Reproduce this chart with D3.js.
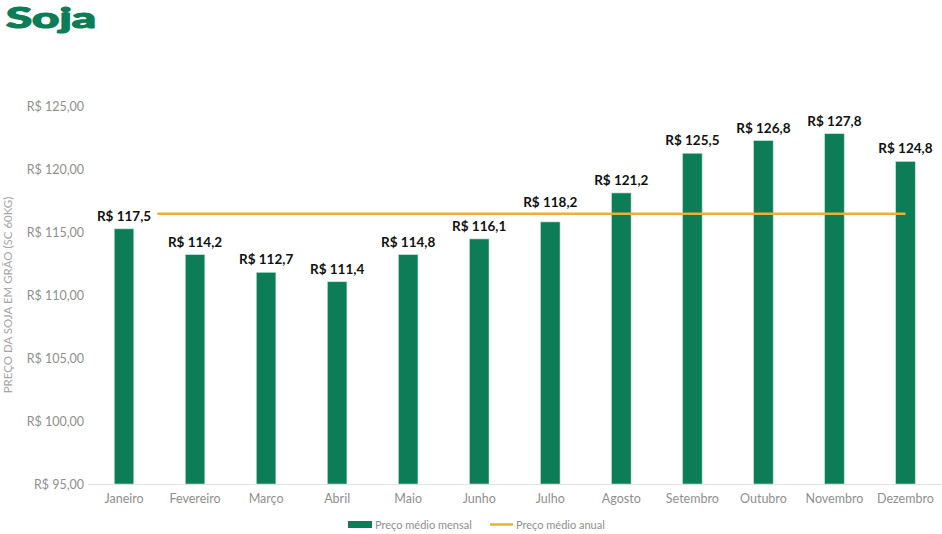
<!DOCTYPE html>
<html><head><meta charset="utf-8">
<script src="https://cdn.jsdelivr.net/npm/d3@7"></script>
<style>body{margin:0;background:#fff;}svg{display:block;font-family:Lato,"Open Sans",sans-serif;}</style>
</head><body>
<svg id="c" width="942" height="534"></svg>
<script>
const months = ["Janeiro","Fevereiro","Março","Abril","Maio","Junho","Julho","Agosto","Setembro","Outubro","Novembro","Dezembro"];
const monthlyPrice = [115.25, 113.2, 111.8, 111.05, 113.2, 114.45, 115.8, 118.1, 121.25, 122.25, 122.8, 120.6];
const dataLabels = ["R$ 117,5","R$ 114,2","R$ 112,7","R$ 111,4","R$ 114,8","R$ 116,1","R$ 118,2","R$ 121,2","R$ 125,5","R$ 126,8","R$ 127,8","R$ 124,8"];
const annualPrice = 116.45;
const yTicks = [95,100,105,110,115,120,125];
const title = "Soja";
const yAxisTitle = "PREÇO DA SOJA EM GRÃO (SC 60KG)";
const legendLabels = ["Preço médio mensal","Preço médio anual"];

const green = "#0c7d57", orange = "#f2ae2f", grey = "#8f8f8f";
const svg = d3.select("#c");
const x = d3.scaleBand().domain(months).range([88.5, 941]).paddingInner(0.725).paddingOuter(0.3625);
const y = d3.scaleLinear().domain([95,125]).range([484,106]);

svg.append("text").attr("x",6).attr("y",28).text(title)
  .attr("fill",green).attr("stroke",green).attr("stroke-width",1.2).attr("stroke-linejoin","round")
  .attr("font-size",29).attr("font-weight",900).attr("font-family","Lato, sans-serif")
  .attr("textLength",90).attr("lengthAdjust","spacingAndGlyphs");

svg.append("text").attr("transform","translate(12,295) rotate(-90)").attr("text-anchor","middle")
  .attr("fill","#a6a6a6").attr("font-size",11.5).text(yAxisTitle);

const fmt = v => "R$ " + d3.format(".2f")(v).replace(".",",");
const ya = svg.append("g").attr("transform","translate(88,0)")
  .call(d3.axisLeft(y).tickValues(yTicks).tickFormat(fmt).tickSize(0).tickPadding(4));
ya.select(".domain").remove();
ya.selectAll("text").attr("fill",grey).attr("font-size",12.5).attr("font-family","Lato, sans-serif");

const xa = svg.append("g").attr("transform","translate(0,484)")
  .call(d3.axisBottom(x).tickSize(0).tickPadding(10));
xa.select(".domain").attr("stroke","#e3e3e3").attr("d","M88,0.5H942");
xa.selectAll("text").attr("fill",grey).attr("font-size",12.5).attr("font-family","Lato, sans-serif");

svg.append("g").selectAll("rect").data(months).join("rect")
  .attr("x",d=>x(d)).attr("width",x.bandwidth())
  .attr("y",(d,i)=>y(monthlyPrice[i])).attr("height",(d,i)=>y(95)-y(monthlyPrice[i]))
  .attr("fill",green).attr("stroke","#bfe3d5").attr("stroke-width",0.6);

const cx = d => x(d) + x.bandwidth()/2;
const lineY = y(annualPrice);
svg.append("line").attr("x1",cx(months[0])).attr("x2",cx(months[11]))
  .attr("y1",lineY).attr("y2",lineY).attr("stroke",orange).attr("stroke-width",2.5);

const lg = svg.append("g");
months.forEach((m,i)=>{
  let by = y(monthlyPrice[i]) - 8;
  const t = lg.append("text").attr("x",cx(m)).attr("text-anchor","middle")
    .attr("font-size",13.5).attr("font-weight",700).attr("fill","#111").attr("font-family","Lato, sans-serif").text(dataLabels[i]);
  t.attr("y",by);
  let b = t.node().getBBox();
  // labels (other than the line's starting point) that would sit on the average line are moved above it
  if (i > 0 && b.y < lineY + 2 && b.y + b.height > lineY - 2) {
    by = lineY - 6.5; t.attr("y",by); b = t.node().getBBox();
  }
  if (b.y < lineY && b.y + b.height > lineY)
    lg.insert("rect","text").attr("x",b.x-6).attr("y",b.y).attr("width",b.width+12).attr("height",b.height).attr("fill","#fff");
});
lg.selectAll("text").raise();

const leg = svg.append("g");
leg.append("rect").attr("x",348).attr("y",521).attr("width",24).attr("height",7).attr("fill",green);
leg.append("text").attr("x",375).attr("y",528.5).attr("font-size",11).attr("fill",grey).text(legendLabels[0]);
leg.append("line").attr("x1",490).attr("x2",513).attr("y1",524.5).attr("y2",524.5).attr("stroke",orange).attr("stroke-width",2.5);
leg.append("text").attr("x",516).attr("y",528.5).attr("font-size",11).attr("fill",grey).text(legendLabels[1]);
</script>
</body></html>
